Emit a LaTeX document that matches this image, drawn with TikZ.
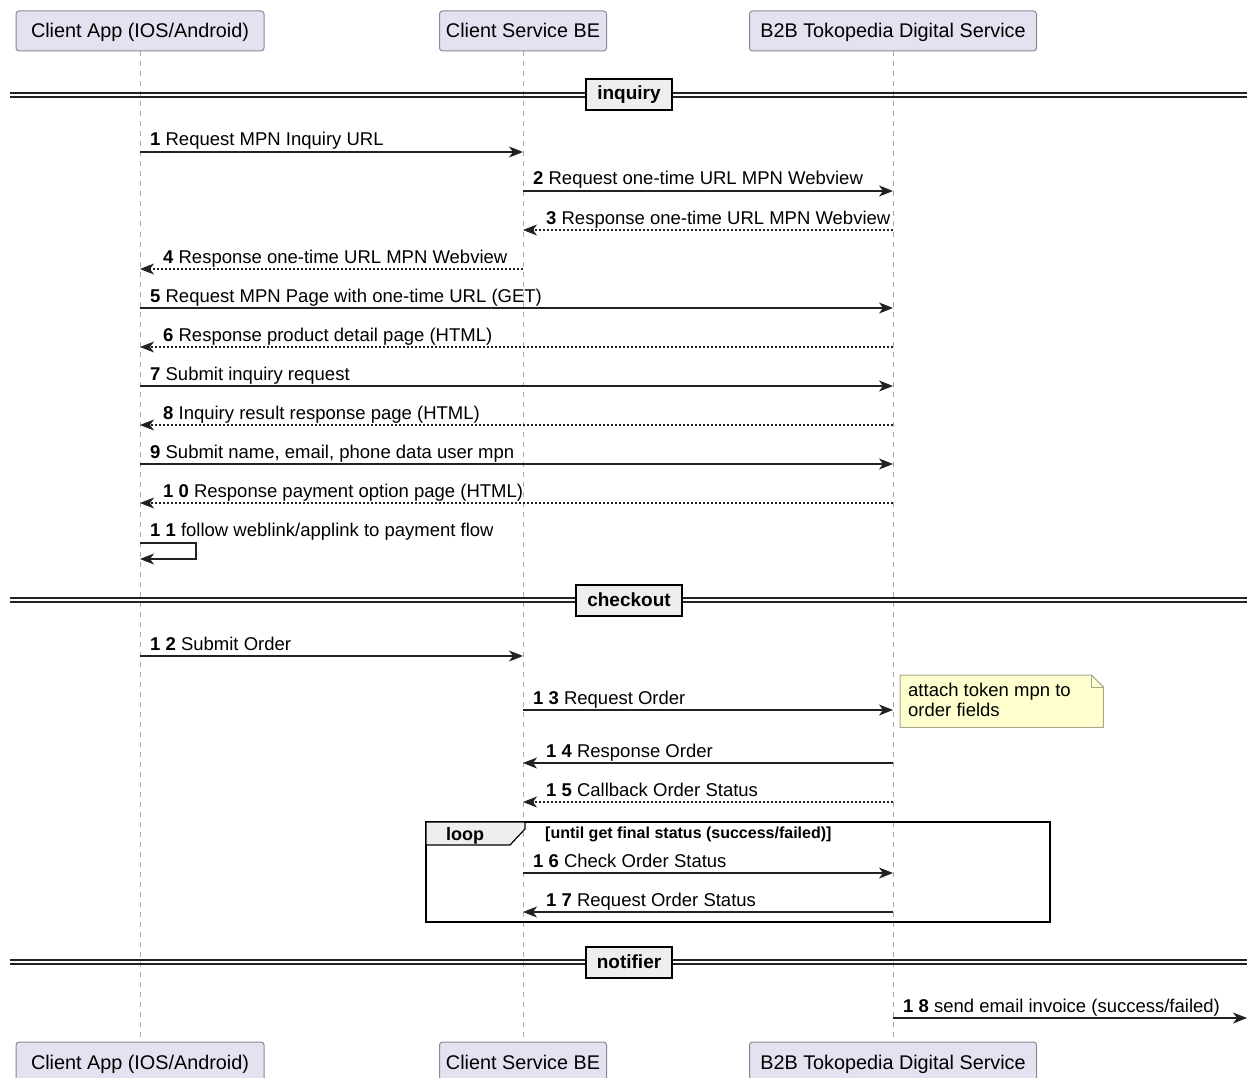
\documentclass[tikz,border=0pt]{standalone}
\usepackage{fontspec}
\setmainfont{Liberation Sans}
\usetikzlibrary{arrows.meta,positioning,backgrounds}
\definecolor{partfill}{HTML}{E2E2F0}
\definecolor{partline}{HTML}{8A8A96}
\definecolor{lifecol}{HTML}{A8A8A8}
\definecolor{msgcol}{HTML}{222222}
\definecolor{divfill}{HTML}{EEEEEE}
\definecolor{notefill}{HTML}{FEFECE}
\definecolor{noteline}{HTML}{A8A88A}

\begin{document}
\begin{tikzpicture}[
    x=1pt, y=-1pt,
    actor/.style={draw=partline, fill=partfill, rounded corners=3pt, line width=1pt, minimum height=40pt, inner xsep=0pt, text height=17pt, text depth=3pt, font=\fontsize{19.8}{22}\selectfont},
    life/.style={draw=lifecol, line width=1pt, dash pattern=on 5pt off 5pt},
    lbl/.style={anchor=base west, inner sep=0pt, font=\fontsize{18.5}{20}\selectfont},
    msg/.style={-{Stealth[length=14pt, width=11pt, inset=4pt]}, line width=1.2pt, draw=msgcol},
    reply/.style={msg, dash pattern=on 2pt off 2pt},
    sepline/.style={draw=msgcol, line width=1.3pt},
    divider/.style={draw=black, fill=divfill, line width=2pt, minimum height=31pt, inner xsep=11pt, font=\bfseries\fontsize{19}{21}\selectfont},
    frame/.style={draw=black, line width=2pt}
]
\useasboundingbox (0,0) rectangle (1247,1078);
\clip (0,0) rectangle (1247,1078);

% Participants
\node[actor, minimum width=248pt] (appT) at (140,31) {Client App (IOS/Android)};
\node[actor, minimum width=167pt] (svcT) at (523,31) {Client Service BE};
\node[actor, minimum width=287pt] (b2bT) at (893,31) {B2B Tokopedia Digital Service};
\node[actor, minimum width=248pt] (appB) at (140,1062) {Client App (IOS/Android)};
\node[actor, minimum width=167pt] (svcB) at (523,1062) {Client Service BE};
\node[actor, minimum width=287pt] (b2bB) at (893,1062) {B2B Tokopedia Digital Service};

% Lifelines
\draw[life] (appT) -- (appB);
\draw[life] (svcT) -- (svcB);
\draw[life] (b2bT) -- (b2bB);

% Divider: inquiry
\draw[sepline] (10,93) -- (1247,93);
\draw[sepline] (10,97) -- (1247,97);
\node[divider] (divI) at (629,95) {inquiry};

% Messages 1-11
\node[lbl] (m1) at (150,146) {\textbf{1} Request MPN Inquiry URL};
\draw[msg] (appT |- 0,152) -- (svcT |- 0,152);
\node[lbl] (m2) at (533,185) {\textbf{2} Request one-time URL MPN Webview};
\draw[msg] (svcT |- 0,191) -- (b2bT |- 0,191);
\node[lbl] (m3) at (546,224) {\textbf{3} Response one-time URL MPN Webview};
\draw[reply] (b2bT |- 0,230) -- (svcT |- 0,230);
\node[lbl] (m4) at (163,263) {\textbf{4} Response one-time URL MPN Webview};
\draw[reply] (svcT |- 0,269) -- (appT |- 0,269);
\node[lbl] (m5) at (150,302) {\textbf{5} Request MPN Page with one-time URL (GET)};
\draw[msg] (appT |- 0,308) -- (b2bT |- 0,308);
\node[lbl] (m6) at (163,341) {\textbf{6} Response product detail page (HTML)};
\draw[reply] (b2bT |- 0,347) -- (appT |- 0,347);
\node[lbl] (m7) at (150,380) {\textbf{7} Submit inquiry request};
\draw[msg] (appT |- 0,386) -- (b2bT |- 0,386);
\node[lbl] (m8) at (163,419) {\textbf{8} Inquiry result response page (HTML)};
\draw[reply] (b2bT |- 0,425) -- (appT |- 0,425);
\node[lbl] (m9) at (150,458) {\textbf{9} Submit name, email, phone data user mpn};
\draw[msg] (appT |- 0,464) -- (b2bT |- 0,464);
\node[lbl] (m10) at (163,497) {\textbf{1 0} Response payment option page (HTML)};
\draw[reply] (b2bT |- 0,503) -- (appT |- 0,503);
\node[lbl] (m11) at (150,536) {\textbf{1 1} follow weblink/applink to payment flow};
\draw[msg] (appT |- 0,543) -- ++(56,0) -- ++(0,16) -- (appT |- 0,559);

% Divider: checkout
\draw[sepline] (10,598) -- (1247,598);
\draw[sepline] (10,602) -- (1247,602);
\node[divider] (divC) at (629,600) {checkout};

% Messages 12-15
\node[lbl] (m12) at (150,650) {\textbf{1 2} Submit Order};
\draw[msg] (appT |- 0,656) -- (svcT |- 0,656);
\node[lbl] (m13) at (533,704) {\textbf{1 3} Request Order};
\draw[msg] (svcT |- 0,710) -- (b2bT |- 0,710);
\node[anchor=north west, inner sep=0pt, minimum width=203pt, minimum height=52pt] (note) at (900,675) {};
\node[lbl, anchor=north west, align=left, font=\fontsize{18.5}{20}\selectfont] (notetxt) at (908,683) {attach token mpn to\\order fields};
\begin{scope}[on background layer]
\draw[fill=notefill, draw=noteline, line width=1pt] (note.north west) -- ([xshift=-12pt]note.north east) -- ([yshift=-12pt]note.north east) -- (note.south east) -- (note.south west) -- cycle;
\draw[draw=noteline, line width=1pt] ([xshift=-12pt]note.north east) -- ([xshift=-12pt,yshift=-12pt]note.north east) -- ([yshift=-12pt]note.north east);
\end{scope}
\node[lbl] (m14) at (546,757) {\textbf{1 4} Response Order};
\draw[msg] (b2bT |- 0,763) -- (svcT |- 0,763);
\node[lbl] (m15) at (546,796) {\textbf{1 5} Callback Order Status};
\draw[reply] (b2bT |- 0,802) -- (svcT |- 0,802);

% Loop frame
\draw[frame] (426,822) rectangle (1050,922);
\draw[fill=divfill, draw=black, line width=1.2pt] (426,822) -- (525,822) -- (525,829) -- (510,845) -- (426,845) -- cycle;
\node[lbl, font=\bfseries\fontsize{18}{20}\selectfont] (looplbl) at (446,840) {loop};
\node[lbl, font=\bfseries\fontsize{16}{18}\selectfont] (loopcond) at (545,838) {[until get final status (success/failed)]};
\node[lbl] (m16) at (533,867) {\textbf{1 6} Check Order Status};
\draw[msg] (svcT |- 0,873) -- (b2bT |- 0,873);
\node[lbl] (m17) at (546,906) {\textbf{1 7} Request Order Status};
\draw[msg] (b2bT |- 0,912) -- (svcT |- 0,912);

% Divider: notifier
\draw[sepline] (10,960) -- (1247,960);
\draw[sepline] (10,964) -- (1247,964);
\node[divider] (divN) at (629,962) {notifier};

% Message 18
\coordinate (outR) at (1247,1018);
\node[lbl] (m18) at (903,1012) {\textbf{1 8} send email invoice (success/failed)};
\draw[msg] (b2bT |- 0,1018) -- (outR);

\end{tikzpicture}
\end{document}
